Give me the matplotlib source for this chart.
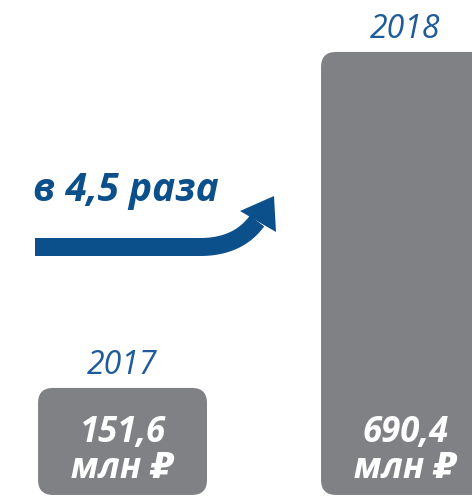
import numpy as np
import matplotlib
matplotlib.use("Agg")
import matplotlib.pyplot as plt
from matplotlib.patches import FancyBboxPatch, Polygon

# ---- data ----
years = ["2017", "2018"]
values = [151.6, 690.4]
value_labels = ["151,6\nмлн ₽", "690,4\nмлн ₽"]
growth_label = "в 4,5 раза"

BAR_COLOR = "#808185"
YEAR_COLOR = "#1F5B9A"
ARROW_COLOR = "#0B4F8B"
FONTS = ["Open Sans", "DejaVu Sans"]

W, H = 472, 499
fig = plt.figure(figsize=(W / 100, H / 100), dpi=100)
ax = fig.add_axes([0, 0, 1, 1])
ax.set_xlim(-0.433, 1.235)
ax.set_ylim(-26.5, 773.7)
ax.axis("off")

x = np.arange(len(values))
bar_w = 0.597
bottom = -20.0
px_x = W / (1.235 + 0.433)
px_y = H / (773.7 + 26.5)
radius_px = 15
aspect = px_x / px_y
for xi, v, lab, yr in zip(x, values, value_labels, years):
    p = FancyBboxPatch((xi - bar_w / 2, bottom), bar_w, v - bottom,
                       boxstyle=f"round,pad=0,rounding_size={radius_px / px_x}",
                       mutation_aspect=aspect, facecolor=BAR_COLOR,
                       edgecolor="none", clip_on=False)
    ax.add_patch(p)
    ax.text(xi, v + 6 / px_y, yr, ha="center", va="bottom", fontsize=23,
            style="italic", color=YEAR_COLOR, family=FONTS)
    ax.text(xi, 48 / px_y - 26.5, lab, ha="center", va="center",
            fontsize=25, style="italic", fontweight="bold", color="white",
            family=FONTS, linespacing=1.0)

# ---- decorative arrow in pixel coordinates ----
ov = fig.add_axes([0, 0, 1, 1], facecolor="none")
ov.set_xlim(0, W)
ov.set_ylim(H, 0)
ov.axis("off")

t = np.linspace(0, 1, 40)
P0 = np.array([200, 247.0]); P1 = np.array([238, 247.0]); P2 = np.array([257, 221.0])
curve = ((1 - t)[:, None] ** 2) * P0 + (2 * (1 - t) * t)[:, None] * P1 + (t[:, None] ** 2) * P2
center = np.vstack([[35, 247.0], curve])
d = np.gradient(center, axis=0)
d /= np.linalg.norm(d, axis=1)[:, None]
n = np.column_stack([-d[:, 1], d[:, 0]])
hw = 9.0
upper = center + n * hw
lower = center - n * hw
shaft = np.vstack([upper, lower[::-1]])
ov.add_patch(Polygon(shaft, closed=True, facecolor=ARROW_COLOR, edgecolor="none"))
head = np.array([[240, 211], [274, 196], [276, 232]])
ov.add_patch(Polygon(head, closed=True, facecolor=ARROW_COLOR, edgecolor="none"))

ov.text(33, 190, growth_label, ha="left", va="center", fontsize=28,
        style="italic", fontweight="bold", color=ARROW_COLOR, family=FONTS)

fig.savefig("out.png", dpi=100)
